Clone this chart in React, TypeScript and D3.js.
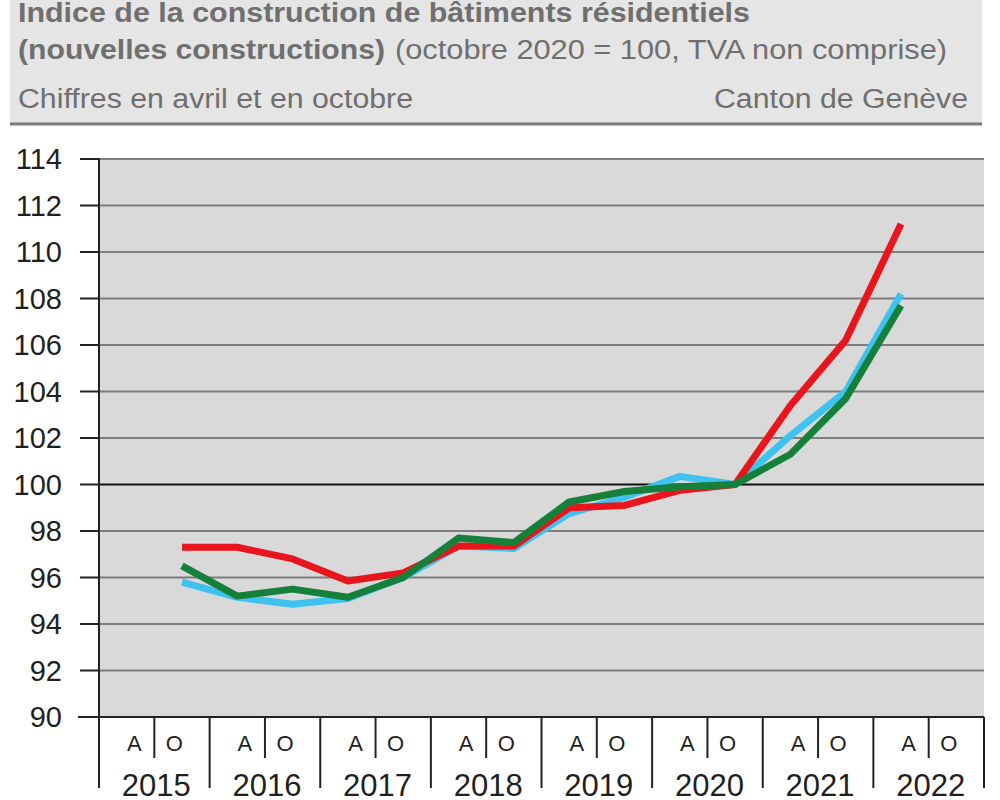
import React from "react";
import * as d3 from "d3";

const years = ["2015", "2016", "2017", "2018", "2019", "2020", "2021", "2022"];
const halves = ["A", "O"];
const yTicks = [90, 92, 94, 96, 98, 100, 102, 104, 106, 108, 110, 112, 114];

// Points: O2015 .. A2022
const periods = [
  "2015-O", "2016-A", "2016-O", "2017-A", "2017-O", "2018-A", "2018-O",
  "2019-A", "2019-O", "2020-A", "2020-O", "2021-A", "2021-O", "2022-A",
];
const redValues = [97.3, 97.3, 96.8, 95.85, 96.2, 97.35, 97.35, 99.0, 99.1, 99.75, 100, 103.4, 106.2, 111.2];
const blueValues = [95.8, 95.15, 94.85, 95.1, 96.0, 97.35, 97.25, 98.75, 99.45, 100.35, 100, 102.1, 104.0, 108.2];
const greenValues = [96.5, 95.2, 95.5, 95.15, 96.0, 97.7, 97.5, 99.25, 99.7, 99.9, 100, 101.3, 103.7, 107.7];

const series = [
  { name: "blue", color: "#3ec3f0", values: blueValues },
  { name: "red", color: "#e8161c", values: redValues },
  { name: "green", color: "#15803a", values: greenValues },
];

const W = 1000;
const H = 800;
const left = 99;
const right = 984;
const top = 159;
const bottom = 717;

export default function App() {
  const halfKeys = years.flatMap((y) => halves.map((h) => `${y}-${h}`));
  const x = d3.scaleBand<string>().domain(halfKeys).range([left, right]).paddingInner(0).paddingOuter(0);
  const xYear = d3.scaleBand<string>().domain(years).range([left, right]);
  const y = d3.scaleLinear().domain([90, 114]).range([bottom, top]);
  const line = d3
    .line<number>()
    .x((_, i) => (x(periods[i]) as number) + x.bandwidth() / 2)
    .y((d) => y(d));

  const headerColor = "#6f6f6f";
  const font = "Arial, 'Liberation Sans', sans-serif";

  return (
    <svg
      width={W}
      height={H}
      style={{ position: "absolute", left: 0, top: 0, display: "block", background: "#fff" }}
      fontFamily={font}
    >
      {/* header */}
      <rect x={10} y={0} width={972} height={124} fill="#e5e5e5" />
      <line x1={10} x2={982} y1={124} y2={124} stroke="#7a7a7a" strokeWidth={3} />
      <text x={18} y={22} fontSize={27} fontWeight="bold" fill={headerColor} textLength={732} lengthAdjust="spacingAndGlyphs">
        Indice de la construction de bâtiments résidentiels
      </text>
      <text x={18} y={59} fontSize={27} fontWeight="bold" fill={headerColor} textLength={367} lengthAdjust="spacingAndGlyphs">
        (nouvelles constructions)
      </text>
      <text x={395} y={59} fontSize={27} fill={headerColor} textLength={552} lengthAdjust="spacingAndGlyphs">
        (octobre 2020 = 100, TVA non comprise)
      </text>
      <text x={18} y={108} fontSize={27} fill={headerColor} textLength={395} lengthAdjust="spacingAndGlyphs">
        Chiffres en avril et en octobre
      </text>
      <text x={968} y={108} fontSize={27} fill={headerColor} textAnchor="end" textLength={254} lengthAdjust="spacingAndGlyphs">
        Canton de Genève
      </text>

      {/* plot background */}
      <rect x={left} y={top} width={right - left} height={bottom - top} fill="#d9d9d9" />
      {/* gridlines */}
      {yTicks.map((t) =>
        t === 90 ? null : (
          <line
            key={t}
            x1={left}
            x2={right}
            y1={y(t)}
            y2={y(t)}
            stroke={t === 100 ? "#111" : "#7d7d7d"}
            strokeWidth={2}
          />
        )
      )}
      {/* y axis */}
      <line x1={left} x2={left} y1={top - 1} y2={bottom} stroke="#222" strokeWidth={2} />
      {yTicks.map((t) => (
        <g key={t}>
          <line x1={t === 90 ? 78 : 80} x2={left} y1={y(t)} y2={y(t)} stroke="#222" strokeWidth={2} />
          <text x={62} y={y(t)} dy="0.36em" fontSize={29} textAnchor="end" fill="#1f1f1f">
            {t}
          </text>
        </g>
      ))}

      {/* x axis */}
      <line x1={left} x2={right} y1={bottom} y2={bottom} stroke="#222" strokeWidth={2} />
      <line x1={left} x2={left} y1={bottom} y2={788} stroke="#222" strokeWidth={2} />
      {years.map((yr) => {
        const x0 = xYear(yr) as number;
        const x1 = x0 + xYear.bandwidth();
        const mid = x0 + xYear.bandwidth() / 2;
        return (
          <g key={yr}>
            <line x1={x1} x2={x1} y1={bottom} y2={788} stroke="#222" strokeWidth={2} />
            <line x1={mid} x2={mid} y1={bottom} y2={758} stroke="#222" strokeWidth={2} />
            <text x={mid - 20} y={751} fontSize={22} textAnchor="middle" fill="#1f1f1f">
              {halves[0]}
            </text>
            <text x={mid + 20} y={751} fontSize={22} textAnchor="middle" fill="#1f1f1f">
              {halves[1]}
            </text>
            <text x={mid + 2} y={796} fontSize={31} textAnchor="middle" fill="#1f1f1f">
              {yr}
            </text>
          </g>
        );
      })}

      {/* lines */}
      {series.map((s) => (
        <path
          key={s.name}
          d={line(s.values) as string}
          fill="none"
          stroke={s.color}
          strokeWidth={7}
          strokeLinejoin="round"
        />
      ))}
    </svg>
  );
}
